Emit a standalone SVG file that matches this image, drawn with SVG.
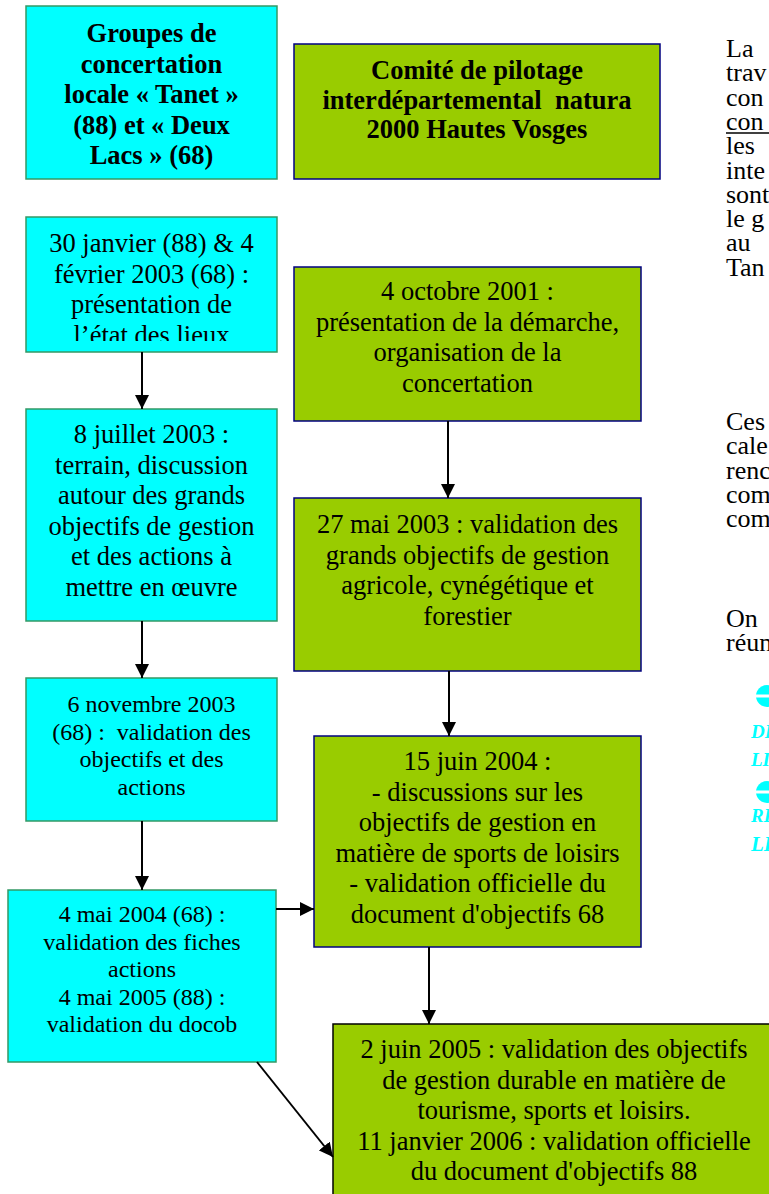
<svg xmlns="http://www.w3.org/2000/svg" width="769" height="1194" viewBox="0 0 769 1194">
<style>
.cy{fill:#00FFFF;stroke:#339966;stroke-width:1.5}
.gr{fill:#99CC00;stroke:#000080;stroke-width:1.5}
.grk{fill:#99CC00;stroke:#000000;stroke-width:1.5}
text{font-family:"Liberation Serif","Times New Roman",serif;fill:#000}
.t{font-size:26.5px;text-anchor:middle}
.b{font-weight:bold}
.s{font-size:24px;text-anchor:middle}
.r{font-size:26px}
.c{fill:#00FFFF;font-style:italic;font-weight:bold;font-size:19px}
.cn{stroke:#000;stroke-width:2;fill:none;marker-end:url(#ah)}
</style>
<defs>
<marker id="ah" markerUnits="userSpaceOnUse" markerWidth="14" markerHeight="14" refX="14" refY="7" orient="auto">
<path d="M0,0 L14,7 L0,14 z" fill="#000"/>
</marker>
<clipPath id="clipC"><rect x="26" y="217" width="251" height="124"/></clipPath>
</defs>
<rect width="769" height="1194" fill="#fff"/>

<g id="groupes">
<rect class="cy" x="26" y="6" width="251" height="173"/>
<text class="t b"><tspan x="151.5" y="42">Groupes de</tspan><tspan x="151.5" y="72.5">concertation</tspan><tspan x="151.5" y="103">locale « Tanet »</tspan><tspan x="151.5" y="133.5">(88) et « Deux</tspan><tspan x="151.5" y="164">Lacs » (68)</tspan></text>
</g>

<g id="comite">
<rect class="gr" x="294" y="44" width="366" height="135"/>
<text class="t b"><tspan x="477" y="79">Comité de pilotage</tspan><tspan x="477" y="108.5">interdépartemental&#160; natura</tspan><tspan x="477" y="138">2000 Hautes Vosges</tspan></text>
</g>

<g id="n30janvier">
<rect class="cy" x="26" y="217" width="251" height="135"/>
<text class="t" clip-path="url(#clipC)"><tspan x="151.5" y="252">30 janvier (88) &amp; 4</tspan><tspan x="151.5" y="282.5">février 2003 (68) :</tspan><tspan x="151.5" y="313">présentation de</tspan><tspan x="151.5" y="343.5">l’état des lieux</tspan></text>
</g>

<g id="n4octobre">
<rect class="gr" x="294" y="267" width="347" height="154"/>
<text class="t"><tspan x="467.5" y="300">4 octobre 2001 :</tspan><tspan x="467.5" y="330.5">présentation de la démarche,</tspan><tspan x="467.5" y="361">organisation de la</tspan><tspan x="467.5" y="391.5">concertation</tspan></text>
</g>

<g id="n8juillet">
<rect class="cy" x="26" y="409" width="251" height="212"/>
<text class="t"><tspan x="151.5" y="443">8 juillet 2003 :</tspan><tspan x="151.5" y="473.5">terrain, discussion</tspan><tspan x="151.5" y="504">autour des grands</tspan><tspan x="151.5" y="534.5">objectifs de gestion</tspan><tspan x="151.5" y="565">et des actions à</tspan><tspan x="151.5" y="595.5">mettre en œuvre</tspan></text>
</g>

<g id="n27mai">
<rect class="gr" x="294" y="498" width="347" height="173"/>
<text class="t"><tspan x="467.5" y="533">27 mai 2003 : validation des</tspan><tspan x="467.5" y="563.5">grands objectifs de gestion</tspan><tspan x="467.5" y="594">agricole, cynégétique et</tspan><tspan x="467.5" y="624.5">forestier</tspan></text>
</g>

<g id="n6novembre">
<rect class="cy" x="26" y="678" width="251" height="143"/>
<text class="s"><tspan x="151.5" y="712">6 novembre 2003</tspan><tspan x="151.5" y="739.5">(68) :&#160; validation des</tspan><tspan x="151.5" y="767">objectifs et des</tspan><tspan x="151.5" y="794.5">actions</tspan></text>
</g>

<g id="n15juin">
<rect class="gr" x="314" y="736" width="327" height="211"/>
<text class="t"><tspan x="477.5" y="770">15 juin 2004 :</tspan><tspan x="477.5" y="800.5">- discussions sur les</tspan><tspan x="477.5" y="831">objectifs de gestion en</tspan><tspan x="477.5" y="861.5">matière de sports de loisirs</tspan><tspan x="477.5" y="892">- validation officielle du</tspan><tspan x="477.5" y="922.5">document d'objectifs 68</tspan></text>
</g>

<g id="n4mai">
<rect class="cy" x="8" y="890" width="268" height="172"/>
<text class="s"><tspan x="142" y="922">4 mai 2004 (68) :</tspan><tspan x="142" y="949.5">validation des fiches</tspan><tspan x="142" y="977">actions</tspan><tspan x="142" y="1004.5">4 mai 2005 (88) :</tspan><tspan x="142" y="1032">validation du docob</tspan></text>
</g>

<g id="n2juin">
<rect class="grk" x="333" y="1024" width="442" height="200"/>
<text class="t"><tspan x="554" y="1058">2 juin 2005 : validation des objectifs</tspan><tspan x="554" y="1088.5">de gestion durable en matière de</tspan><tspan x="554" y="1119">tourisme, sports et loisirs.</tspan><tspan x="554" y="1149.5">11 janvier 2006 : validation officielle</tspan><tspan x="554" y="1180">du document d'objectifs 88</tspan></text>
</g>

<g id="connecteurs">
<line class="cn" x1="142" y1="352" x2="142" y2="409"/>
<line class="cn" x1="142" y1="621" x2="142" y2="678"/>
<line class="cn" x1="142" y1="821" x2="142" y2="890"/>
<line class="cn" x1="448" y1="421" x2="448" y2="498"/>
<line class="cn" x1="449" y1="671" x2="449" y2="736"/>
<line class="cn" x1="276" y1="909" x2="314" y2="909"/>
<line class="cn" x1="429" y1="947" x2="429" y2="1024"/>
<line class="cn" x1="257" y1="1062" x2="333" y2="1157"/>
</g>

<g id="texte">
<text class="r"><tspan x="726" y="57">La</tspan><tspan x="726" y="81.3">trav</tspan><tspan x="726" y="105.6">con</tspan><tspan x="726" y="129.9">con</tspan><tspan x="726" y="154.2">les</tspan><tspan x="726" y="178.5">inte</tspan><tspan x="726" y="202.8">sont</tspan><tspan x="726" y="227.1">le g</tspan><tspan x="726" y="251.4">au</tspan><tspan x="726" y="275.7">Tan</tspan></text>
<line x1="726" y1="133" x2="769" y2="133" stroke="#000" stroke-width="1.3"/>
<text class="r"><tspan x="726" y="430">Ces</tspan><tspan x="726" y="454.3">cale</tspan><tspan x="726" y="478.6">renc</tspan><tspan x="726" y="502.9">com</tspan><tspan x="726" y="527.2">com</tspan></text>
<text class="r"><tspan x="726" y="627">On</tspan><tspan x="726" y="651.3">réun</tspan></text>
<circle cx="767" cy="696" r="11" fill="#00FFFF"/>
<rect x="755" y="694.5" width="14" height="3" fill="#fff"/>
<text class="c" x="751" y="738">DI</text>
<text class="c" x="751" y="766">LI</text>
<circle cx="767" cy="792" r="11" fill="#00FFFF"/>
<rect x="755" y="790.5" width="14" height="3" fill="#fff"/>
<text class="c" x="751" y="822">RI</text>
<text class="c" x="751" y="851" style="font-size:21px">LI</text>
</g>
</svg>
